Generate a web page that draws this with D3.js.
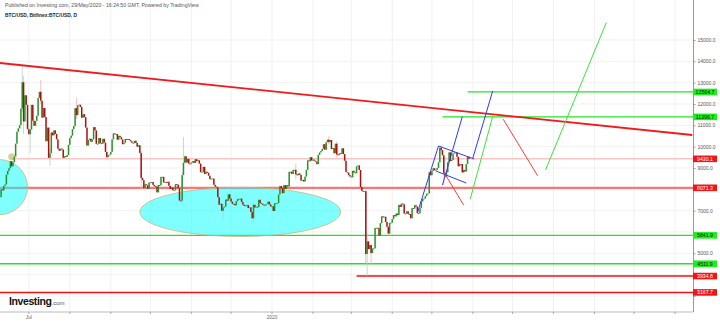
<!DOCTYPE html>
<html>
<head>
<meta charset="utf-8">
<script src="https://cdn.jsdelivr.net/npm/d3@7"></script>
<style>
  body { margin: 0; background: #fff; }
  svg { display: block; font-family: "Liberation Sans", Arial, sans-serif; }
</style>
</head>
<body>
<script>
// daily closes, Bitfinex BTC/USD
var firstDay = "2019-06-10";
var firstOpen = 7630;
var closesJun19 = [8000, 7950, 8160, 8230, 8690, 8860, 8990, 9320, 9080, 9270, 9530, 10140, 10700, 10860, 11010, 11790, 13020, 11180, 12410, 11960, 10820];
var closesJul19 = [10583, 10801, 11961, 11215, 10978, 11208, 11450, 12285, 12573, 12156, 11358, 11815, 11392, 10256, 10895, 9477, 9693, 10666, 10530, 10767, 10599, 10343, 9900, 9811, 9911, 9870, 9477, 9552, 9519, 9607, 10085];
var closesAug19 = [10399, 10518, 10821, 10970, 11805, 11478, 11942, 11966, 11862, 11354, 11523, 11382, 10895, 10052, 10311, 10374, 10231, 10345, 10916, 10763, 10138, 10131, 10407, 10160, 10139, 10370, 10186, 9755, 9510, 9599, 9630];
var closesSep19 = [9757, 10347, 10623, 10595, 10588, 10324, 10509, 10445, 10341, 10115, 10179, 10363, 10361, 10357, 10306, 10251, 10183, 10161, 10279, 10176, 9997, 10068, 9700, 8536, 8427, 8064, 8237, 8192, 8028, 8319];
var closesOct19 = [8327, 8344, 8209, 8145, 8128, 7857, 8206, 8193, 8586, 8587, 8321, 8337, 8299, 8355, 8165, 8016, 8083, 7956, 7956, 8243, 8222, 8050, 7470, 7467, 8665, 9244, 9551, 9256, 9428, 9206, 9199];
var closesNov19 = [9261, 9324, 9235, 9413, 9320, 9362, 9207, 8805, 8815, 9056, 8719, 8826, 8778, 8640, 8477, 8500, 8504, 8211, 8129, 8083, 7631, 7280, 7322, 6994, 7148, 7191, 7522, 7464, 7767, 7570];
var closesDec19 = [7424, 7322, 7320, 7253, 7448, 7547, 7557, 7564, 7401, 7278, 7218, 7243, 7269, 7125, 7152, 6933, 6641, 7277, 7150, 7188, 7161, 7511, 7355, 7322, 7275, 7238, 7290, 7317, 7423, 7293, 7194];
var closesJan20 = [7200, 6985, 7345, 7357, 7359, 7759, 8155, 8055, 7818, 8197, 8020, 8193, 8138, 8823, 8821, 8720, 8914, 8916, 8706, 8658, 8745, 8680, 8406, 8445, 8367, 8596, 8910, 9358, 9316, 9508, 9350];
var closesFeb20 = [9392, 9344, 9293, 9180, 9613, 9729, 9795, 9896, 10117, 9856, 10208, 10326, 10214, 10312, 9889, 9934, 9690, 10141, 9633, 9608, 9687, 9663, 9925, 9651, 9342, 8820, 8784, 8672, 8599];
var closesMar20 = [8563, 8869, 8787, 8756, 9078, 9122, 8909, 8108, 7923, 7909, 7911, 4970, 5563, 5200, 5392, 5014, 5225, 5238, 6191, 6198, 6185, 5831, 6416, 6734, 6681, 6716, 6469, 6243, 5922, 6429, 6438];
var closesApr20 = [6607, 6793, 6733, 6867, 6791, 7271, 7176, 7334, 7302, 6865, 6859, 6971, 6845, 6842, 6642, 7116, 7097, 7257, 7189, 6881, 6880, 7117, 7429, 7550, 7569, 7679, 7795, 7807, 8801, 8658];
var closesMay20 = [8864, 8988, 8897, 8912, 9003, 9268, 9951, 9842, 9593, 8756, 8601, 8805, 9269, 9733, 9328, 9377, 9670, 9727, 9729, 9523, 9081, 9183, 9181, 8790, 8906, 8835, 9181, 9525, 9430.1];

// wicks that stick out clearly: [date, high, low]
var wicks = [
  ["2019-06-26", 13800, 11650], ["2019-06-27", 13300, 10600], ["2019-07-02", 10900, 9700],
  ["2019-07-10", 13130, 12000], ["2019-07-17", 9950, 9100], ["2019-08-06", 12300, 11300],
  ["2019-08-29", 9700, 9350], ["2019-09-24", 9800, 8000], ["2019-10-25", 8800, 7400],
  ["2019-10-26", 10450, 8700], ["2019-11-25", 7300, 6550], ["2019-12-18", 7400, 6450],
  ["2020-01-19", 9200, 8470], ["2020-02-13", 10500, 10100], ["2020-02-19", 10250, 9500],
  ["2020-03-12", 7950, 4550], ["2020-03-13", 5950, 3950], ["2020-03-16", 5400, 4450],
  ["2020-05-08", 10070, 9700], ["2020-05-10", 9600, 8200]
];

// horizontal levels drawn on the chart: [start date, price]
var greenLevels = [["2020-05-28", 12564.7], ["2020-05-09", 11396.7], ["2019-06-09", 5841.9], ["2019-06-09", 4511.9]];
var redLevels = [["2019-06-09", 8071.3], ["2020-03-05", 3934.8], ["2019-06-09", 3167.7]];
var lastLevel = ["2019-06-18", 9430.1];

// trend lines: [date1, price1, date2, price2]
var mainTrend = ["2019-06-09", 13922, "2020-11-14", 10547];
var blueLines = [
  ["2020-04-20", 6891, "2020-05-06", 10031],
  ["2020-05-06", 10031, "2020-06-02", 9422],
  ["2020-05-04", 8859, "2020-05-27", 8297],
  ["2020-05-09", 8203, "2020-05-24", 11405],
  ["2020-06-01", 9469, "2020-06-16", 12609]
];
var redProjections = [["2020-05-10", 8812, "2020-05-25", 7266], ["2020-06-24", 11283, "2020-07-20", 8639]];
var greenProjections = [["2020-05-30", 7547, "2020-06-16", 11414], ["2020-07-26", 8906, "2020-09-10", 15820]];

// ellipses: [center date, center price, half width in days, half height in price]
var ellipses = [["2019-06-08", 8100, 22, 1300], ["2019-12-08", 6938, 76, 1150]];
var markDot = ["2019-06-18", 9530];

var yTicks = d3.range(3000, 15001, 1000);
var xLabels = [["2019-07-01", "Jul"], ["2020-01-01", "2020"]];

var width = 720, height = 323, plotRight = 693, axisY = 312;
var parse = d3.utcParse("%Y-%m-%d");

var closes = [].concat(closesJun19, closesJul19, closesAug19, closesSep19, closesOct19, closesNov19,
  closesDec19, closesJan20, closesFeb20, closesMar20, closesApr20, closesMay20);
var candles = closes.map(function (c, i) {
  return { date: d3.utcDay.offset(parse(firstDay), i), open: i === 0 ? firstOpen : closes[i - 1], close: c };
});

var svg = d3.select("body").append("svg").attr("width", width).attr("height", height);

var x = d3.scaleUtc()
  .domain([new Date(Date.UTC(2019, 5, 9, 4)), new Date(Date.UTC(2020, 10, 14, 14))])
  .range([0, plotRight]);
var y = d3.scaleLinear().domain([3000, 15000]).range([296, 40]);

// grid
var months = d3.utcMonth.range(new Date(Date.UTC(2019, 6, 1)), new Date(Date.UTC(2020, 10, 2)));
svg.append("g").selectAll("line").data(months).enter().append("line")
  .attr("x1", function (d) { return x(d); }).attr("x2", function (d) { return x(d); })
  .attr("y1", 0).attr("y2", axisY)
  .style("stroke", "#f1f1f1").style("stroke-width", 1);
svg.append("g").selectAll("line").data(yTicks).enter().append("line")
  .attr("x1", 0).attr("x2", plotRight)
  .attr("y1", function (d) { return y(d); }).attr("y2", function (d) { return y(d); })
  .style("stroke", "#f1f1f1").style("stroke-width", 1);

// horizontal levels
function levelLine(lv, color, w) {
  svg.append("line")
    .attr("x1", x(parse(lv[0]))).attr("x2", plotRight)
    .attr("y1", y(lv[1])).attr("y2", y(lv[1]))
    .style("stroke", color).style("stroke-width", w);
}
levelLine(lastLevel, "#f9aaaa", 1);
greenLevels.forEach(function (lv) { levelLine(lv, "#22e522", 1.3); });
levelLine(redLevels[0], "#f47a7a", 2.2);
levelLine(redLevels[1], "#f01010", 1.5);
levelLine(redLevels[2], "#f01010", 1.5);

// ellipses
svg.append("g").selectAll("ellipse").data(ellipses).enter().append("ellipse")
  .attr("cx", function (d) { return x(parse(d[0])); })
  .attr("cy", function (d) { return y(d[1]); })
  .attr("rx", function (d) { return x(d3.utcDay.offset(parse(d[0]), d[2])) - x(parse(d[0])); })
  .attr("ry", function (d) { return y(d[1] - d[3]) - y(d[1]); })
  .style("fill", "#00ffff").style("fill-opacity", 0.5)
  .style("stroke", "#c9b877").style("stroke-width", 0.8);

svg.append("circle")
  .attr("cx", x(parse(markDot[0]))).attr("cy", y(markDot[1])).attr("r", 3.5)
  .style("fill", "#b9b25a").style("fill-opacity", 0.6);

// wicks
var wickByDay = {};
wicks.forEach(function (w) { wickByDay[w[0]] = w; });
var fmt = d3.utcFormat("%Y-%m-%d");
svg.append("g").selectAll("line").data(candles.filter(function (d) { return wickByDay[fmt(d.date)]; }))
  .enter().append("line")
  .attr("x1", function (d) { return x(d.date); }).attr("x2", function (d) { return x(d.date); })
  .attr("y1", function (d) { return y(wickByDay[fmt(d.date)][1]); })
  .attr("y2", function (d) { return y(wickByDay[fmt(d.date)][2]); })
  .style("stroke", function (d) { return d.close >= d.open ? "#b9c9dc" : "#eeb3b3"; })
  .style("stroke-width", 0.8);

// candle bodies
svg.append("g").selectAll("rect").data(candles).enter().append("rect")
  .attr("x", function (d) { return x(d.date) - 0.75; })
  .attr("width", 1.5)
  .attr("y", function (d) { return y(Math.max(d.open, d.close)); })
  .attr("height", function (d) { return Math.max(0.8, Math.abs(y(d.open) - y(d.close))); })
  .style("fill", function (d) { return d.close >= d.open ? "#25922a" : "#a80f0f"; });

// trend lines
function seg(list, color, w) {
  svg.append("g").selectAll("line").data(list).enter().append("line")
    .attr("x1", function (d) { return x(parse(d[0])); }).attr("y1", function (d) { return y(d[1]); })
    .attr("x2", function (d) { return x(parse(d[2])); }).attr("y2", function (d) { return y(d[3]); })
    .style("stroke", color).style("stroke-width", w);
}
seg([mainTrend], "#f01a1a", 1.8);
seg(blueLines, "#2a3cf0", 1);
seg(redProjections, "#f04040", 1);
seg(greenProjections, "#3ee03e", 1);

// price labels
var tags = greenLevels.map(function (d) { return { v: d[1], fill: "#18f018", text: "#111" }; })
  .concat(redLevels.map(function (d) { return { v: d[1], fill: "#f41414", text: "#fff" }; }))
  .concat([{ v: lastLevel[1], fill: "#f41414", text: "#fff" }]);

// right axis (tick labels covered by a price tag are not drawn, as on the chart)
svg.append("line").attr("x1", plotRight + 0.5).attr("x2", plotRight + 0.5).attr("y1", 0).attr("y2", axisY)
  .style("stroke", "#999").style("stroke-width", 1);
var shownTicks = yTicks.filter(function (t) {
  return !tags.some(function (g) { return Math.abs(y(g.v) - y(t)) < 7.5; });
});
var yAxis = svg.append("g")
  .attr("transform", "translate(" + (plotRight + 0.5) + ",0)")
  .call(d3.axisRight(y).tickValues(yTicks).tickSize(2).tickPadding(2)
    .tickFormat(function (d) { return shownTicks.indexOf(d) >= 0 ? d3.format(".1f")(d) : ""; }));
yAxis.select(".domain").remove();
yAxis.selectAll("line").style("stroke", "#999");
yAxis.selectAll("text").style("font-size", "5px").style("fill", "#555").style("font-family", "Liberation Sans, Arial, sans-serif");

var tg = svg.append("g").selectAll("g").data(tags).enter().append("g")
  .attr("transform", function (d) { return "translate(" + plotRight + "," + y(d.v) + ")"; });
tg.append("rect").attr("x", 0).attr("y", -3.3).attr("width", 24).attr("height", 6.6)
  .style("fill", function (d) { return d.fill; });
tg.append("text").attr("x", 12).attr("y", 0).attr("dy", "0.35em")
  .attr("text-anchor", "middle").style("font-size", "5.2px")
  .style("fill", function (d) { return d.text; })
  .text(function (d) { return d3.format(".1f")(d.v); });

// bottom axis
svg.append("line").attr("x1", 0).attr("x2", plotRight).attr("y1", axisY).attr("y2", axisY)
  .style("stroke", "#bbb").style("stroke-width", 1);
svg.append("g").selectAll("line").data(months).enter().append("line")
  .attr("x1", function (d) { return x(d); }).attr("x2", function (d) { return x(d); })
  .attr("y1", axisY).attr("y2", axisY + 2)
  .style("stroke", "#999").style("stroke-width", 0.8);
svg.append("g").selectAll("text").data(xLabels).enter().append("text")
  .attr("x", function (d) { return x(parse(d[0])); }).attr("y", 319)
  .attr("text-anchor", "middle").style("font-size", "4.8px").style("fill", "#666")
  .text(function (d) { return d[1]; });

// header
svg.append("text").attr("x", 5).attr("y", 7).style("font-size", "5.2px").style("fill", "#555")
  .text("Published on Investing.com, 29/May/2020 - 16:24:50 GMT, Powered by TradingView");
svg.append("text").attr("x", 5).attr("y", 17).style("font-size", "4.9px").style("font-weight", "bold").style("fill", "#222")
  .text("BTC/USD, Bitfinex:BTC/USD, D");

// logo
var logo = svg.append("text").attr("x", 9).attr("y", 305);
logo.append("tspan").style("font-size", "10.5px").style("font-weight", "bold").style("fill", "#111")
  .style("letter-spacing", "-0.4px").text("Investing");
logo.append("tspan").style("font-size", "6px").style("fill", "#555").text(".com");
</script>
</body>
</html>
